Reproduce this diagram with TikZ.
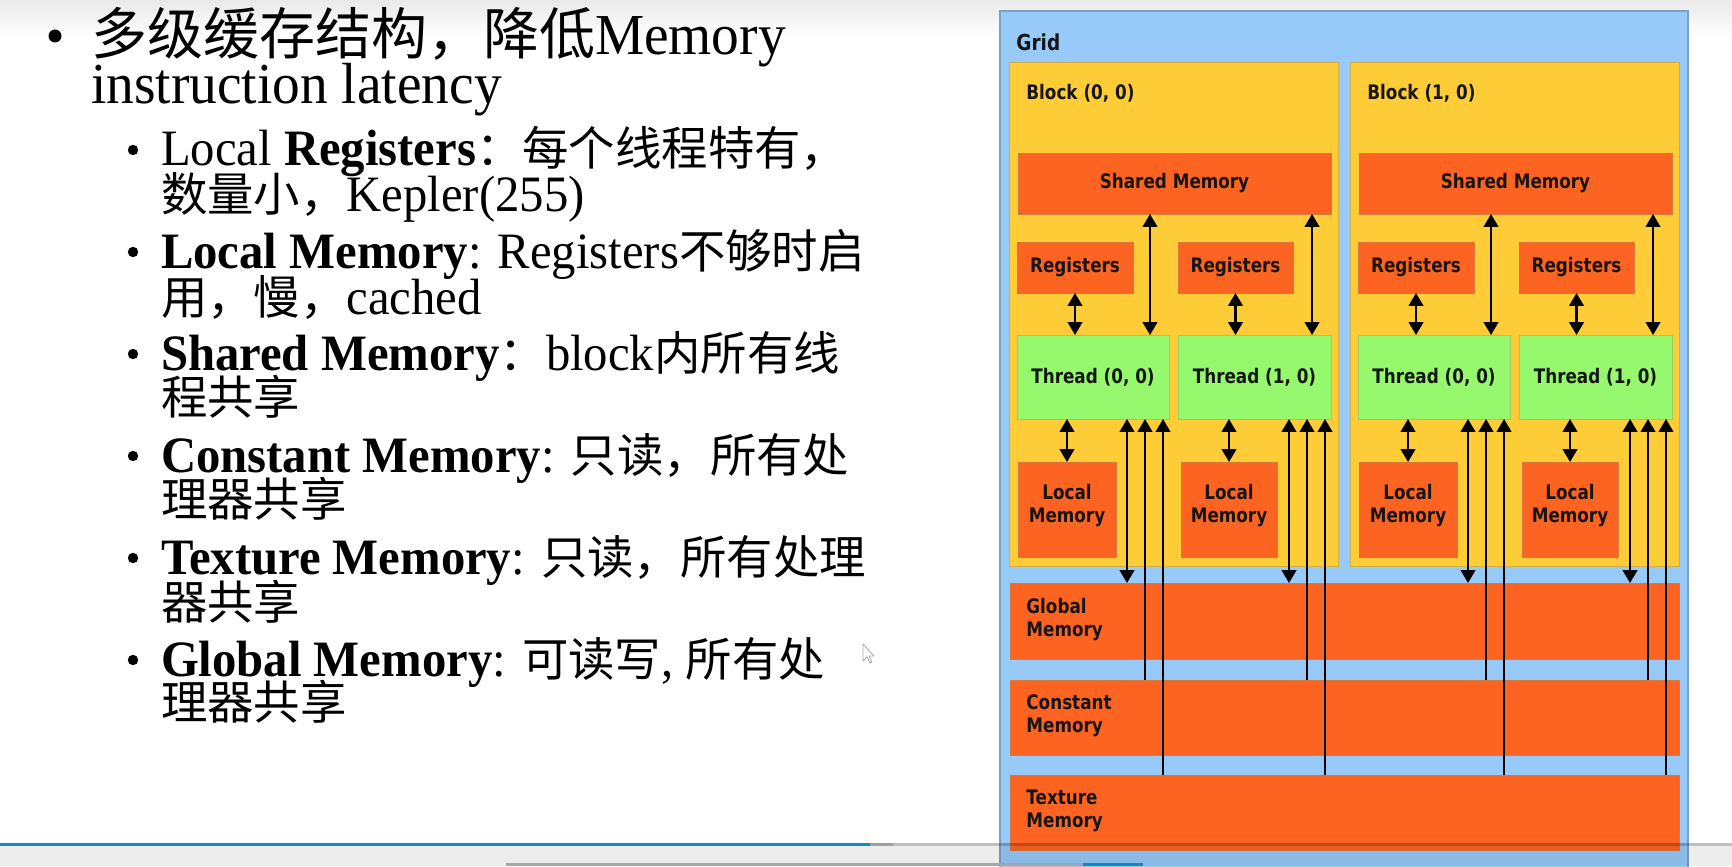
\documentclass[tikz,border=0pt]{standalone}
\usepackage{fontspec}
\setmainfont{Liberation Serif}[FakeStretch=0.955]
\newfontfamily\cjk{Noto Sans CJK SC}
\newfontfamily\dgfont[FakeStretch=0.84]{DejaVu Sans}
\usetikzlibrary{arrows.meta,calc}

\definecolor{gridblue}{RGB}{151,201,249}
\definecolor{gridedge}{RGB}{125,160,200}
\definecolor{blockyellow}{RGB}{253,204,54}
\definecolor{blockedge}{RGB}{205,175,70}
\definecolor{memorange}{RGB}{253,100,33}
\definecolor{memedge}{RGB}{215,120,60}
\definecolor{thrgreen}{RGB}{150,248,108}
\definecolor{thredge}{RGB}{150,205,100}
\definecolor{labeldark}{RGB}{22,22,22}
\definecolor{barblue}{RGB}{14,138,201}

% Latin and Chinese sizes of the two list levels
\newcommand\topfs{\fontsize{29pt}{31pt}\selectfont}
\newcommand\subfs{\fontsize{25.5pt}{27pt}\selectfont}
\newcommand\zht[1]{{\cjk\fontsize{28pt}{30pt}\selectfont #1}}
\newcommand\zhs[1]{{\cjk\fontsize{23.2pt}{25pt}\selectfont #1}}

% rectangle node from its corner coordinates (x1,y1) and (x2,y2)
\newcommand\pxbox[7]{%
  \pgfmathsetmacro\pxw{((#5)-(#3))*0.5}%
  \pgfmathsetmacro\pxh{((#6)-(#4))*0.5}%
  \node[#2, minimum width=\pxw pt, minimum height=\pxh pt] (#1)
    at ({((#3)+(#5))/2},{((#4)+(#6))/2}) {#7};}

\tikzset{
  pxrect/.style={rectangle, inner sep=0pt, outer sep=0pt},
  gridbox/.style={pxrect, fill=gridblue, draw=gridedge, line width=0.6pt},
  blockbox/.style={pxrect, fill=blockyellow, draw=blockedge, line width=0.5pt},
  boxfont/.style={font=\dgfont\bfseries\fontsize{10pt}{11.5pt}\selectfont, text=labeldark},
  membox/.style={pxrect, boxfont, align=center, fill=memorange, draw=memedge, line width=0.4pt},
  thrbox/.style={pxrect, boxfont, align=center, fill=thrgreen, draw=thredge, line width=0.4pt},
  lbl/.style={boxfont, anchor=base west, inner sep=0pt},
  tip/.tip={Triangle[width=7.2pt,length=6.4pt]},
  dbl/.style={tip-tip, line width=1.2pt},
  upar/.style={-tip, line width=1.2pt},
  lefttext/.style={anchor=base west, inner sep=0pt, outer sep=0pt},
  dot/.style={circle, fill=black, inner sep=0pt},
}

\begin{document}
\begin{tikzpicture}[x=0.5pt, y=-0.5pt]
\useasboundingbox (0,0) rectangle (1732,866);
\fill[white] (0,0) rectangle (1732,866);
\shade[top color=gray!17, bottom color=white] (0,0) rectangle (1732,38);

% ---------- memory hierarchy diagram ----------
\pxbox{grid}{gridbox}{1000}{11}{1688}{876}{}
\node[lbl, font=\dgfont\bfseries\fontsize{11pt}{12pt}\selectfont] (gridl) at (1016,51) {Grid};

\foreach \b/\o in {0/0,1/341}{
  \pxbox{blk\b}{blockbox}{1009+\o}{63}{1338+\o}{566}{}
  \node[lbl] (blkl\b) at (1026+\o,100) {Block (\b, 0)};
  \pxbox{sh\b}{membox}{1018+\o}{153}{1331+\o}{214}{Shared Memory}
  \pxbox{ra\b}{membox}{1017+\o}{242}{1133+\o}{293}{Registers}
  \pxbox{rb\b}{membox}{1178+\o}{242}{1293+\o}{293}{Registers}
  \pxbox{ta\b}{thrbox}{1017+\o}{335}{1169+\o}{419}{Thread (0, 0)}
  \pxbox{tb\b}{thrbox}{1178+\o}{335}{1331+\o}{419}{Thread (1, 0)}
  \pxbox{la\b}{membox}{1018+\o}{462}{1116+\o}{557}{Local\\Memory\\[-8.5pt]\strut}
  \pxbox{lb\b}{membox}{1181+\o}{462}{1277+\o}{557}{Local\\Memory\\[-8.5pt]\strut}
}

\pxbox{glob}{membox}{1010}{583}{1679}{659}{}
\pxbox{const}{membox}{1010}{680}{1679}{755}{}
\pxbox{tex}{membox}{1010}{775}{1679}{850}{}
\node[lbl] (globl1) at (1026,613) {Global};
\node[lbl] (globl2) at (1026,636) {Memory};
\node[lbl] (constl1) at (1026,709) {Constant};
\node[lbl] (constl2) at (1026,732) {Memory};
\node[lbl] (texl1) at (1026,804) {Texture};
\node[lbl] (texl2) at (1026,827) {Memory};

% per-thread connections
\foreach \tn/\rn/\lm/\sm in {ta0/ra0/la0/sh0, tb0/rb0/lb0/sh0, ta1/ra1/la1/sh1, tb1/rb1/lb1/sh1}{
  \draw[dbl] (\rn.south) -- (\rn.south |- \tn.north);
  \coordinate (\tn sx) at ($(\tn.north east)+(-19,0)$);
  \draw[dbl] (\sm.south -| \tn sx) -- (\tn sx);
  \draw[dbl] (\lm.north) -- (\lm.north |- \tn.south);
  \coordinate (\tn ga) at ($(\tn.south east)+(-42,0)$);
  \coordinate (\tn ca) at ($(\tn.south east)+(-24,0)$);
  \coordinate (\tn xa) at ($(\tn.south east)+(-6,0)$);
  \draw[dbl] (\tn ga) -- (\tn ga |- glob.north);
  \draw[upar] (\tn ca |- const.north) -- (\tn ca);
  \draw[upar] (\tn xa |- tex.north) -- (\tn xa);
}

% ---------- bullet list ----------
\node[dot, minimum size=6.5pt] (b0) at (55,36) {};
\node[lefttext, font=\topfs] (t1a) at (91,55) {\zht{多级缓存结构，降低}Memory};
\node[lefttext, font=\topfs] (t1b) at (91,104) {instruction latency};

\foreach \yy [count=\i] in {150,252,354,456,558,660}{
  \node[dot, minimum size=5.2pt] (sb\i) at (133,\yy) {};
}
\node[lefttext, font=\subfs] (s1a) at (161,166) {Local \textbf{Registers}\zhs{：每个线程特有，}};
\node[lefttext, font=\subfs] (s1b) at (161,212) {\zhs{数量小，}Kepler(255)};
\node[lefttext, font=\subfs] (s2a) at (161,268) {\textbf{Local Memory}: Registers\zhs{不够时启}};
\node[lefttext, font=\subfs] (s2b) at (161,314) {\zhs{用，慢，}cached};
\node[lefttext, font=\subfs] (s3a) at (161,370) {\textbf{Shared Memory}\zhs{：}block\zhs{内所有线}};
\node[lefttext, font=\subfs] (s3b) at (161,414) {\zhs{程共享}};
\node[lefttext, font=\subfs] (s4a) at (161,472) {\textbf{Constant Memory}: \zhs{只读，所有处}};
\node[lefttext, font=\subfs] (s4b) at (161,516) {\zhs{理器共享}};
\node[lefttext, font=\subfs] (s5a) at (161,574) {\textbf{Texture Memory}: \zhs{只读，所有处理}};
\node[lefttext, font=\subfs] (s5b) at (161,619) {\zhs{器共享}};
\node[lefttext, font=\subfs] (s6a) at (161,676) {\textbf{Global Memory}: \zhs{可读写}, \zhs{所有处}};
\node[lefttext, font=\subfs] (s6b) at (161,719) {\zhs{理器共享}};

% mouse pointer
\draw[fill=white, draw=gray!70, line width=0.4pt, line join=round]
  (863,644) -- ++(0,17) -- ++(4,-4) -- ++(3,6) -- ++(2,-1) -- ++(-3,-6) -- ++(5,0) -- cycle;

% ---------- player bar along the bottom ----------
\fill[black, opacity=0.07] (0,846) rectangle (1732,866);
\fill[barblue] (0,843) rectangle (870,846);
\fill[gray!75] (870,843) rectangle (893,846);
\fill[black, opacity=0.25] (893,843) rectangle (1732,846);
\fill[gray!70] (506,863) rectangle (1083,866);
\fill[barblue] (1083,863) rectangle (1143,866);
\end{tikzpicture}
\end{document}
